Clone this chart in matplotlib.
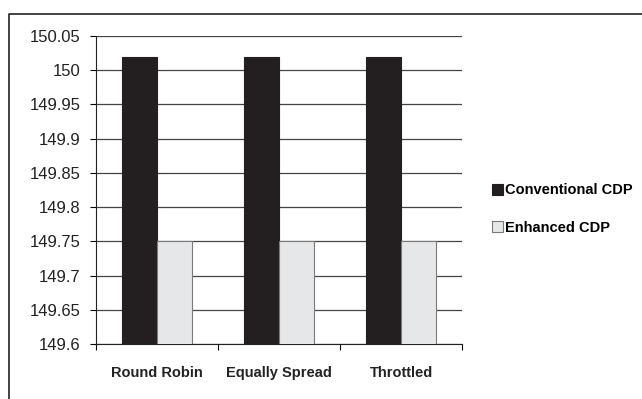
import matplotlib.pyplot as plt
from matplotlib.lines import Line2D
import numpy as np

categories = ["Round Robin", "Equally Spread", "Throttled"]
conventional = [150.02, 150.02, 150.02]
enhanced = [149.75, 149.75, 149.75]
yticks = [149.6, 149.65, 149.7, 149.75, 149.8, 149.85, 149.9, 149.95, 150, 150.05]

plt.rcParams['font.family'] = ['Liberation Sans', 'DejaVu Sans']

fig = plt.figure(figsize=(6.42, 3.99), dpi=100)
ax = fig.add_axes([96/642, 1-344/399, (462-96)/642, (344-36)/399])

x = np.arange(len(categories))
w = 0.287
ax.bar(x - w/2, conventional, w, color='#231f20', edgecolor='#231f20', linewidth=0.8,
       label='Conventional CDP', zorder=3)
ax.bar(x + w/2, enhanced, w, color='#e6e7e8', edgecolor='#7a7a7a', linewidth=0.8,
       label='Enhanced CDP', zorder=3)

ax.set_ylim(149.6, 150.05)
ax.set_xlim(-0.5, 2.5)
ax.set_yticks(yticks)
ax.set_yticklabels(["%g" % v for v in yticks], fontsize=12, color='#222222')
ax.yaxis.grid(True, color='#444444', linewidth=0.9, zorder=0)

ax.set_xticks([-0.5, 0.5, 1.5, 2.5])
ax.set_xticklabels([])
ax.set_xticks(x, minor=True)
ax.set_xticklabels(categories, minor=True, fontsize=10.5, fontweight='bold', color='#222222')
ax.tick_params(axis='x', which='major', direction='out', length=4, width=0.8)
ax.tick_params(axis='x', which='minor', length=0, pad=16)
ax.tick_params(axis='y', direction='out', length=4, width=0.8, pad=7)

for s in ['top', 'right']:
    ax.spines[s].set_visible(False)
for s in ['left', 'bottom']:
    ax.spines[s].set_linewidth(0.8)
    ax.spines[s].set_color('#222222')

ax.legend(loc='center left', bbox_to_anchor=(492/642, 1-209/399), bbox_transform=fig.transFigure,
          frameon=False, handlelength=0.75, handleheight=0.75, handletextpad=0.15,
          labelspacing=1.6, borderpad=0, borderaxespad=0,
          prop={'weight': 'bold', 'size': 10.5})

fig.add_artist(Line2D([9/642, 9/642, 1], [0, 1-14/399, 1-14/399], color='#222222',
                      linewidth=1.2, transform=fig.transFigure))

fig.savefig('out.png', dpi=100)
